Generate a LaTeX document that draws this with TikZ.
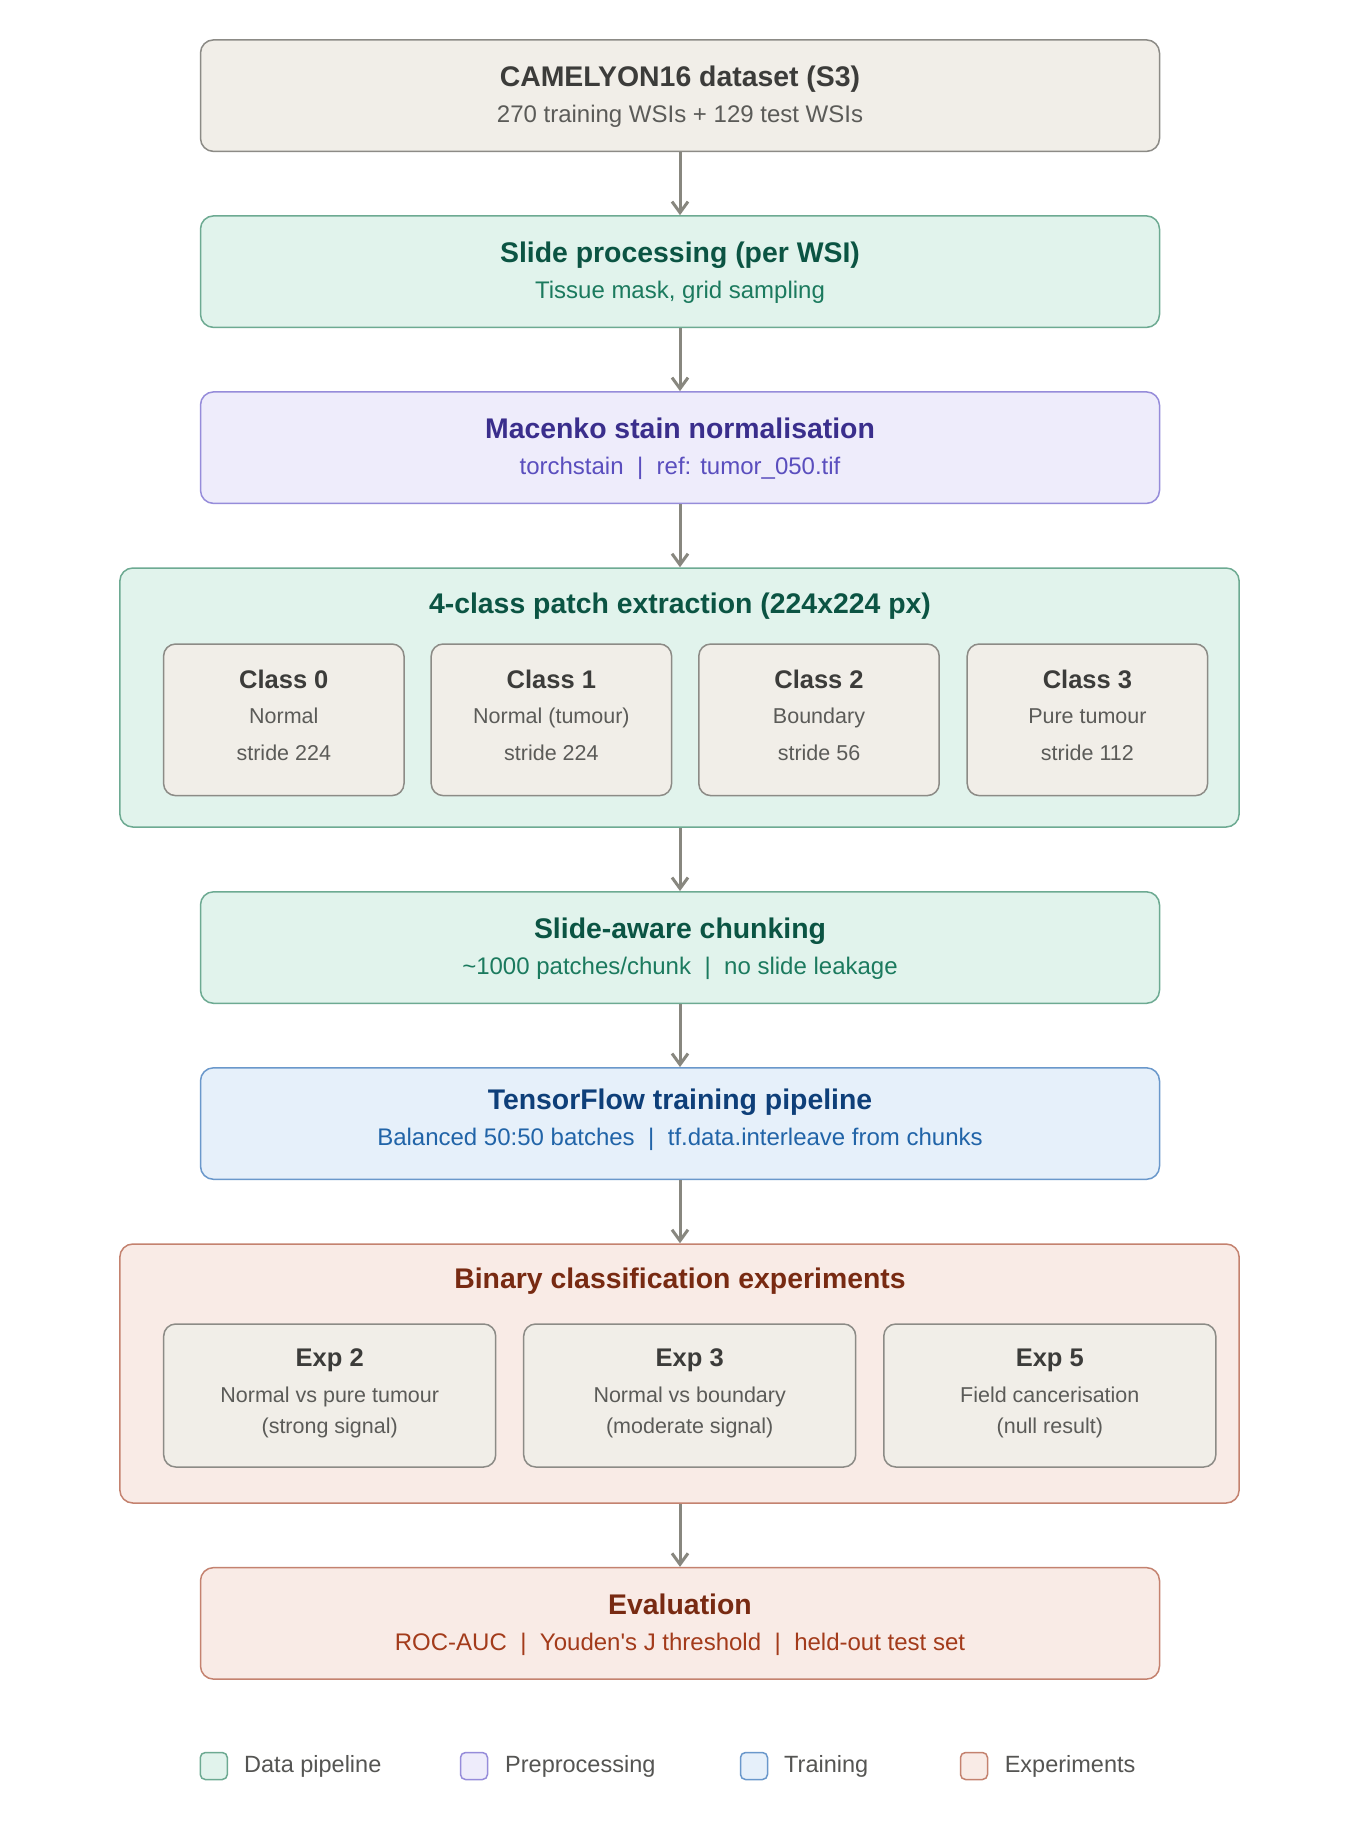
\documentclass[tikz,border=0pt]{standalone}
\usepackage{fontspec}
\setmainfont{Liberation Sans}[Ligatures=TeXOff]
\usetikzlibrary{arrows.meta}
\definecolor{neuF}{HTML}{F1EEE8}\definecolor{neuD}{HTML}{8C8B86}
\definecolor{neuT}{HTML}{3C3C3A}\definecolor{neuS}{HTML}{5B5B58}
\definecolor{greF}{HTML}{E1F3EC}\definecolor{greD}{HTML}{6DAA92}
\definecolor{greT}{HTML}{0B5443}\definecolor{greS}{HTML}{1B7A5E}
\definecolor{purF}{HTML}{EEECFB}\definecolor{purD}{HTML}{968CDA}
\definecolor{purT}{HTML}{3A2E8C}\definecolor{purS}{HTML}{5A4EBE}
\definecolor{bluF}{HTML}{E6F0FA}\definecolor{bluD}{HTML}{6A98CB}
\definecolor{bluT}{HTML}{0E3F79}\definecolor{bluS}{HTML}{2164A8}
\definecolor{redF}{HTML}{F9EBE6}\definecolor{redD}{HTML}{C4826F}
\definecolor{redT}{HTML}{782A12}\definecolor{redS}{HTML}{A33B1B}
\definecolor{arrC}{HTML}{88877F}
\definecolor{legT}{HTML}{555553}
\tikzset{
  stagebox/.style={draw, line width=1.5pt, rounded corners=13pt, minimum width=959pt, minimum height=111.5pt, inner sep=0pt},
  groupbox/.style={draw, line width=1.5pt, rounded corners=13pt, minimum width=1119.3pt, minimum height=259pt, inner sep=0pt},
  classbox/.style={draw=neuD, fill=neuF, line width=1.5pt, rounded corners=12pt, minimum width=240.4pt, minimum height=151.6pt, inner sep=0pt},
  expbox/.style={draw=neuD, fill=neuF, line width=1.5pt, rounded corners=12pt, minimum width=332pt, minimum height=143pt, inner sep=0pt},
  ttl/.style={inner sep=0pt, anchor=center, text height=20.3pt, text depth=0pt, font=\fontsize{28.4}{34}\selectfont\bfseries},
  sub/.style={inner sep=0pt, anchor=center, text height=17.2pt, text depth=0pt, font=\fontsize{24}{28}\selectfont},
  ctl/.style={inner sep=0pt, anchor=center, text height=18.2pt, text depth=0pt, font=\fontsize{25.5}{30}\selectfont\bfseries, text=neuT},
  cln/.style={inner sep=0pt, anchor=center, text height=15.4pt, text depth=0pt, font=\fontsize{21.5}{26}\selectfont, text=neuS},
  legsq/.style={draw, line width=1.5pt, rounded corners=5pt, minimum width=27pt, minimum height=27pt, inner sep=0pt},
  legtx/.style={inner sep=0pt, anchor=west, text height=16.8pt, text depth=0pt, font=\fontsize{23.5}{28}\selectfont, text=legT},
  flow/.style={draw=arrC, line width=3pt, -{Straight Barb[length=11pt,width=16pt,line width=3pt]}}
}
\newcommand{\sepbar}{\hspace{0.56em}|\hspace{0.56em}}
\begin{document}
\begin{tikzpicture}[x=1pt,y=-1pt]
\useasboundingbox[fill=white] (0,0) rectangle (1360,1840);

% top dataset box
\node[stagebox, fill=neuF, draw=neuD] (cam) at (680,95.65) {};
\node[ttl, text=neuT] (camT) at (680,76.3) {CAMELYON16 dataset (S3)};
\node[sub, text=neuS] (camS) at (680,113.8) {270 training WSIs + 129 test WSIs};

% slide processing
\node[stagebox, fill=greF, draw=greD] (slide) at (680,271.65) {};
\node[ttl, text=greT] (slideT) at (680,252.3) {Slide processing (per WSI)};
\node[sub, text=greS] (slideS) at (680,289.8) {Tissue mask, grid sampling};

% macenko
\node[stagebox, fill=purF, draw=purD] (mac) at (680,447.65) {};
\node[ttl, text=purT] (macT) at (680,428.3) {Macenko stain normalisation};
\node[sub, text=purS] (macS) at (680,465.8) {torchstain\sepbar ref: tumor\_050.tif};

% patch extraction group
\node[groupbox, fill=greF, draw=greD] (patch) at (679.5,697.5) {};
\node[ttl, text=greT] (patchT) at (680,603) {4-class patch extraction (224x224 px)};
\node[classbox] (c0) at (283.8,719.8) {};
\node[classbox] (c1) at (551.4,719.8) {};
\node[classbox] (c2) at (819,719.8) {};
\node[classbox] (c3) at (1087.4,719.8) {};
\node[ctl] (c0a) at (283.8,679) {Class 0};
\node[cln] (c0b) at (283.8,716) {Normal};
\node[cln] (c0c) at (283.8,752.5) {stride 224};
\node[ctl] (c1a) at (551.4,679) {Class 1};
\node[cln] (c1b) at (551.4,716) {Normal (tumour)};
\node[cln] (c1c) at (551.4,752.5) {stride 224};
\node[ctl] (c2a) at (819,679) {Class 2};
\node[cln] (c2b) at (819,716) {Boundary};
\node[cln] (c2c) at (819,752.5) {stride 56};
\node[ctl] (c3a) at (1087.4,679) {Class 3};
\node[cln] (c3b) at (1087.4,716) {Pure tumour};
\node[cln] (c3c) at (1087.4,752.5) {stride 112};

% chunking
\node[stagebox, fill=greF, draw=greD] (chunk) at (680,947.55) {};
\node[ttl, text=greT] (chunkT) at (680,928.2) {Slide-aware chunking};
\node[sub, text=greS] (chunkS) at (680,965.7) {\textasciitilde1000 patches/chunk\sepbar no slide leakage};

% tensorflow
\node[stagebox, fill=bluF, draw=bluD] (tf) at (680,1123.55) {};
\node[ttl, text=bluT] (tfT) at (680,1099.5) {TensorFlow training pipeline};
\node[sub, text=bluS] (tfS) at (680,1137) {Balanced 50:50 batches\sepbar tf.data.interleave from chunks};

% binary experiments group
\node[groupbox, fill=redF, draw=redD] (bin) at (679.5,1373.5) {};
\node[ttl, text=redT] (binT) at (680,1278) {Binary classification experiments};
\node[expbox] (e2) at (329.7,1395.5) {};
\node[expbox] (e3) at (689.7,1395.5) {};
\node[expbox] (e5) at (1049.8,1395.5) {};
\node[ctl] (e2a) at (329.7,1357) {Exp 2};
\node[cln] (e2b) at (329.7,1395) {Normal vs pure tumour};
\node[cln] (e2c) at (329.7,1426) {(strong signal)};
\node[ctl] (e3a) at (689.7,1357) {Exp 3};
\node[cln] (e3b) at (689.7,1395) {Normal vs boundary};
\node[cln] (e3c) at (689.7,1426) {(moderate signal)};
\node[ctl] (e5a) at (1049.8,1357) {Exp 5};
\node[cln] (e5b) at (1049.8,1395) {Field cancerisation};
\node[cln] (e5c) at (1049.8,1426) {(null result)};

% evaluation
\node[stagebox, fill=redF, draw=redD] (eval) at (680,1623.35) {};
\node[ttl, text=redT] (evalT) at (680,1604) {Evaluation};
\node[sub, text=redS] (evalS) at (680,1641.5) {ROC-AUC\sepbar Youden's J threshold\sepbar held-out test set};

% arrows
\draw[flow] (cam.south) -- (slide.north);
\draw[flow] (slide.south) -- (mac.north);
\draw[flow] (mac.south) -- (mac.south |- patch.north);
\draw[flow] (mac.south |- patch.south) -- (chunk.north);
\draw[flow] (chunk.south) -- (tf.north);
\draw[flow] (tf.south) -- (tf.south |- bin.north);
\draw[flow] (tf.south |- bin.south) -- (eval.north);

% legend
\node[legsq, fill=greF, draw=greD] (lg1) at (213.8,1766) {};
\node[legtx] (lg1t) at (244,1764) {Data pipeline};
\node[legsq, fill=purF, draw=purD] (lg2) at (474,1766) {};
\node[legtx] (lg2t) at (505,1764) {Preprocessing};
\node[legsq, fill=bluF, draw=bluD] (lg3) at (754,1766) {};
\node[legtx] (lg3t) at (784,1764) {Training};
\node[legsq, fill=redF, draw=redD] (lg4) at (974,1766) {};
\node[legtx] (lg4t) at (1004.6,1764) {Experiments};
\end{tikzpicture}
\end{document}
